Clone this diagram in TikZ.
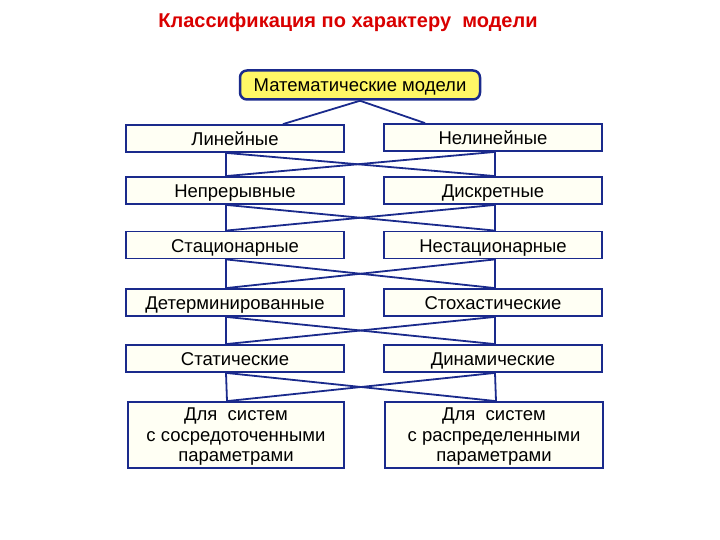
\documentclass[tikz,border=0pt]{standalone}
\usepackage{fontspec}
\setmainfont{Liberation Sans}
\definecolor{bl}{HTML}{1A2A8C}
\definecolor{bx}{HTML}{FFFFF4}
\begin{document}
\begin{tikzpicture}[x=1pt,y=-1pt,
  bxs/.style={draw=bl,line width=1.8pt,fill=bx,minimum height=27pt,inner sep=0pt,text height=14pt,text depth=0pt,font=\fontsize{18.5}{20.5}\selectfont,align=center},
  ln/.style={draw=bl,line width=1.8pt}]
\useasboundingbox (0,0) rectangle (720,540);
\node[font=\bfseries\fontsize{20}{22}\selectfont,text=red!85!black] (t) at (348,22) {Классификация по характеру\ \ модели};
\node[draw=bl,line width=2.5pt,fill=yellow!60,rounded corners=7pt,minimum width=240pt,minimum height=29pt,inner sep=0pt,text height=14pt,text depth=0pt,font=\fontsize{18.5}{20.5}\selectfont] (m) at (360,85) {Математические модели};
\node[bxs,minimum width=218pt] (l1) at (235,138.5) {Линейные};
\node[bxs,minimum width=218pt] (r1) at (493,137.5) {Нелинейные};
\node[bxs,minimum width=218pt] (l2) at (235,190.5) {Непрерывные};
\node[bxs,minimum width=218pt] (r2) at (493,190.5) {Дискретные};
\node[bxs,minimum width=218pt] (l3) at (235,245) {Стационарные};
\node[bxs,minimum width=218pt] (r3) at (493,245) {Нестационарные};
\node[bxs,minimum width=218pt] (l4) at (235,302.5) {Детерминированные};
\node[bxs,minimum width=218pt] (r4) at (493,302.5) {Стохастические};
\node[bxs,minimum width=218pt] (l5) at (235,358.5) {Статические};
\node[bxs,minimum width=218pt] (r5) at (493,358.5) {Динамические};
\node[bxs,minimum width=216pt,minimum height=66pt,text height=,text depth=] (l6) at (236,435) {};
\node[bxs,minimum width=218pt,minimum height=66pt,text height=,text depth=] (r6) at (494,435) {};
\node[font=\fontsize{18.5}{20.5}\selectfont,align=center] (l6t) at (236,437) {Для\ \ систем\\с сосредоточенными\\параметрами};
\node[font=\fontsize{18.5}{20.5}\selectfont,align=center] (r6t) at (494,437) {Для\ \ систем\\с распределенными\\параметрами};
\draw[ln] (m.south) -- ([xshift=48pt]l1.north);
\draw[ln] (m.south) -- ([xshift=-68pt]r1.north);
\foreach \a/\b in {1/2,2/3,3/4,4/5,5/6}{
  \draw[ln] ([xshift=-9pt]l\a.south) -- ([xshift=-9pt]l\b.north);
  \draw[ln] ([xshift=2pt]r\a.south) -- ([xshift=2pt]r\b.north);
  \draw[ln] ([xshift=-9pt]l\a.south) -- ([xshift=2pt]r\b.north);
  \draw[ln] ([xshift=2pt]r\a.south) -- ([xshift=-9pt]l\b.north);
}
\end{tikzpicture}
\end{document}
